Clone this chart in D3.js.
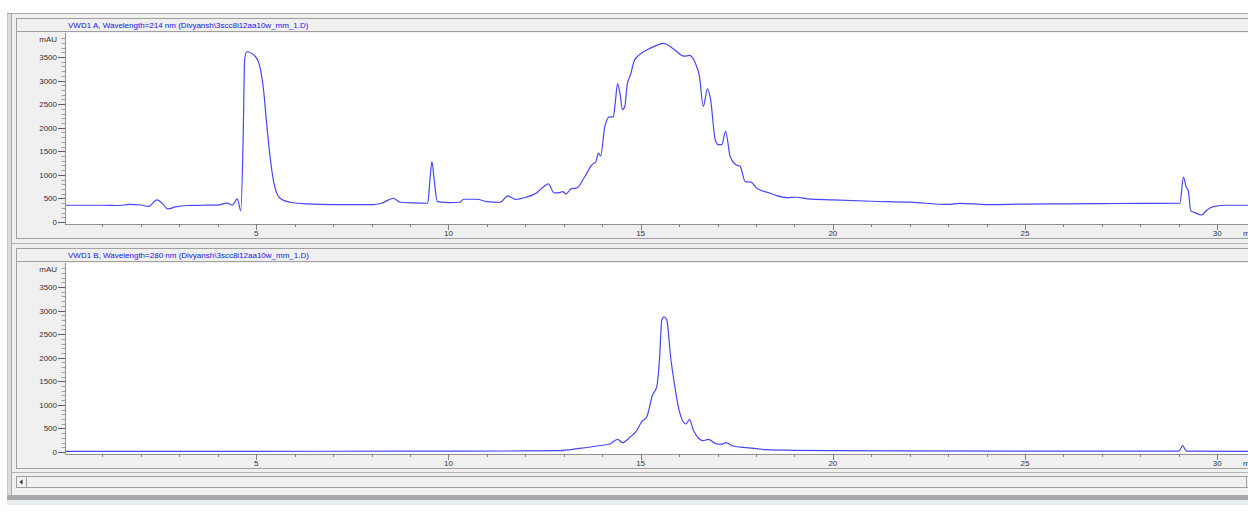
<!DOCTYPE html>
<html>
<head>
<meta charset="utf-8">
<script src="https://cdn.jsdelivr.net/npm/d3@7"></script>
<style>
  body { margin: 0; background: #ffffff; }
  svg { display: block; font-family: "Liberation Sans", Arial, sans-serif; }
</style>
</head>
<body>
<script>
// signal A (214 nm): retention time (min) and absorbance (mAU)
const timeA = [0, 1.0, 1.4, 1.7, 2.0, 2.2, 2.42, 2.55, 2.7, 2.9, 3.2, 3.6, 4.0, 4.23, 4.38, 4.51, 4.6, 4.66, 4.7, 4.75,
  4.97, 5.08, 5.19, 5.27, 5.36, 5.46, 5.62, 5.88, 6.31, 7.0, 8.04, 8.26, 8.57, 8.74, 9.09, 9.46, 9.52, 9.57, 9.63, 9.71,
  10.04, 10.3, 10.39, 10.74, 11.0, 11.34, 11.55, 11.75, 12.0, 12.3, 12.5, 12.6, 12.75, 12.9, 12.97, 13.06, 13.2, 13.33,
  13.55, 13.73, 13.84, 13.9, 13.96, 14.07, 14.19, 14.29, 14.34, 14.4, 14.46, 14.53, 14.59, 14.65, 14.74, 14.83, 14.98,
  15.16, 15.37, 15.59, 15.85, 16.13, 16.27, 16.42, 16.53, 16.63, 16.74, 16.82, 16.94, 17.02, 17.11, 17.21, 17.33, 17.48,
  17.59, 17.72, 17.87, 18.02, 18.37, 18.54, 18.8, 19.06, 19.36, 20.0, 21.0, 22.0, 23.0, 23.3, 24.0, 25.0, 26.0, 27.0,
  28.0, 29.03, 29.12, 29.19, 29.25, 29.31, 29.42, 29.6, 29.71, 29.9, 30.25, 31.0];
const signalA = [355, 355, 350, 372, 360, 330, 468, 400, 277, 320, 350, 355, 360, 400, 360, 489, 240, 1745, 3447, 3611,
  3518, 3341, 2809, 2100, 1390, 823, 504, 419, 383, 368, 368, 398, 504, 419, 404, 398, 894, 1283, 894, 432,
  411, 419, 483, 483, 432, 419, 553, 480, 520, 620, 766, 809, 617, 624, 645, 596, 709, 717,
  964, 1213, 1283, 1462, 1404, 2028, 2228, 2228, 2526, 2937, 2739, 2383, 2454, 2915, 3128, 3411, 3554,
  3646, 3730, 3788, 3675, 3518, 3532, 3377, 3092, 2454, 2824, 2596, 1745, 1639, 1639, 1922, 1390, 1213,
  1177, 858, 845, 717, 611, 560, 517, 525, 489, 468, 440, 420, 372, 395, 370, 380, 385, 390,
  395, 398, 951, 751, 645, 240, 198, 149, 240, 326, 355, 355];

// signal B (280 nm)
const timeB = [0, 4.0, 9.0, 12.0, 12.9, 13.42, 13.86, 14.2, 14.4, 14.53, 14.72, 14.88, 15.03, 15.16, 15.31, 15.42, 15.49,
  15.55, 15.61, 15.68, 15.78, 15.89, 16.0, 16.18, 16.27, 16.37, 16.63, 16.76, 16.98, 17.1, 17.22, 17.41, 17.76, 18.28,
  18.97, 20, 25, 29.0, 29.1, 29.2, 31];
const signalB = [15, 15, 18, 22, 28, 78, 127, 170, 269, 198, 311, 431, 643, 749, 1208, 1385, 1950,
  2798, 2868, 2798, 2020, 1385, 890, 594, 693, 466, 240, 269, 170, 165, 198, 127, 92, 49,
  36, 28, 20, 18, 134, 18, 15];

const panels = [
  { title: "VWD1 A, Wavelength=214 nm (Divyansh\\3scc8i12aa10w_mm_1.D)", time: timeA, signal: signalA, top: 18 },
  { title: "VWD1 B, Wavelength=280 nm (Divyansh\\3scc8i12aa10w_mm_1.D)", time: timeB, signal: signalB, top: 248 }
];

const yTicks = d3.range(0, 4000, 100);
const xTicks = d3.range(1, 31, 1);

const w = 1248, h = 520;
const svg = d3.select("body").append("svg").attr("width", w).attr("height", h);

// window frame
svg.append("rect").attr("x", 7).attr("y", 13).attr("width", w).attr("height", 487).attr("fill", "#f0f0f0");
svg.append("rect").attr("x", 7).attr("y", 13).attr("width", 5).attr("height", 487).attr("fill", "#dcdcdc");
svg.append("line").attr("x1", 7.5).attr("x2", 7.5).attr("y1", 13).attr("y2", 500).attr("stroke", "#c4c4c4");
svg.append("line").attr("x1", 11.5).attr("x2", 11.5).attr("y1", 13).attr("y2", 496).attr("stroke", "#a8a8a8");
svg.append("line").attr("x1", 7).attr("x2", w).attr("y1", 13.5).attr("y2", 13.5).attr("stroke", "#a8a8a8");
svg.append("rect").attr("x", 7).attr("y", 495).attr("width", w).attr("height", 5).attr("fill", "#a9a9a9");
svg.append("rect").attr("x", 7).attr("y", 500).attr("width", w).attr("height", 5).attr("fill", "#e8eef0");

const x = d3.scaleLinear().domain([0, 30.8]).range([64, 1248]);

panels.forEach((p, i) => {
  const t0 = p.top;
  const plotTop = t0 + 15, axisY = t0 + 206;
  const y = d3.scaleLinear().domain([0, 4000]).range([axisY - 2, axisY - 2 - 188.6]);
  const g = svg.append("g");

  // title bar
  g.append("rect").attr("x", 16.5).attr("y", t0 + 0.5).attr("width", w).attr("height", 13)
    .attr("fill", "#f0f0f0").attr("stroke", "#a0a0a0");
  g.append("text").attr("x", 68).attr("y", t0 + 10).attr("font-size", 8).attr("fill", "#1414f0")
    .text(p.title);

  // panel box
  g.append("rect").attr("x", 16.5).attr("y", t0 + 13.5).attr("width", w).attr("height", 207)
    .attr("fill", "#f0f0f0").attr("stroke", "#a0a0a0");
  g.append("rect").attr("x", 65).attr("y", plotTop).attr("width", w - 65).attr("height", axisY - plotTop)
    .attr("fill", "#ffffff");

  // y axis
  g.append("line").attr("x1", 65.5).attr("x2", 65.5).attr("y1", plotTop).attr("y2", axisY)
    .attr("stroke", "#909090");
  g.selectAll(".ytick").data(yTicks).enter().append("line")
    .attr("x1", d => d % 500 === 0 ? 58 : 61.5).attr("x2", 65)
    .attr("y1", d => Math.round(y(d)) + 0.5).attr("y2", d => Math.round(y(d)) + 0.5)
    .attr("stroke", d => d % 500 === 0 ? "#606060" : "#a0a0a0");
  g.selectAll(".ylab").data(yTicks.filter(d => d % 500 === 0)).enter().append("text")
    .attr("x", 57).attr("y", d => y(d) + 3).attr("text-anchor", "end")
    .attr("font-size", 8).attr("fill", "#333").text(d => d);
  g.append("text").attr("x", 57).attr("y", y(3880) + 3).attr("text-anchor", "end")
    .attr("font-size", 8).attr("fill", "#333").text("mAU");

  // x axis
  g.append("line").attr("x1", 65).attr("x2", w).attr("y1", axisY + 0.5).attr("y2", axisY + 0.5)
    .attr("stroke", "#909090");
  g.selectAll(".xtick").data(xTicks).enter().append("line")
    .attr("x1", d => Math.round(x(d)) + 0.5).attr("x2", d => Math.round(x(d)) + 0.5)
    .attr("y1", axisY).attr("y2", d => d % 5 === 0 ? axisY + 6 : axisY + 3)
    .attr("stroke", "#808080");
  g.selectAll(".xlab").data(xTicks.filter(d => d % 5 === 0)).enter().append("text")
    .attr("x", d => x(d)).attr("y", axisY + 12).attr("text-anchor", "middle")
    .attr("font-size", 8).attr("fill", "#333").text(d => d);
  g.append("text").attr("x", 1243).attr("y", axisY + 12).attr("font-size", 8).attr("fill", "#333").text("min");

  // trace
  const clipId = "clip" + i;
  svg.append("clipPath").attr("id", clipId).append("rect")
    .attr("x", 66).attr("y", plotTop).attr("width", w - 66).attr("height", axisY - plotTop);
  const line = d3.line().x(d => x(d[0])).y(d => y(d[1])).curve(d3.curveMonotoneX);
  g.append("path").datum(p.time.map((t, k) => [t, p.signal[k]]))
    .attr("clip-path", "url(#" + clipId + ")")
    .attr("d", line).attr("fill", "none").attr("stroke", "#4646ff").attr("stroke-width", 1.2);
});

// separator between panels
svg.append("line").attr("x1", 12).attr("x2", w).attr("y1", 243.5).attr("y2", 243.5).attr("stroke", "#b4b4b4");
svg.append("line").attr("x1", 12).attr("x2", w).attr("y1", 472.5).attr("y2", 472.5).attr("stroke", "#b4b4b4");

// scrollbar
svg.append("rect").attr("x", 16.5).attr("y", 476.5).attr("width", w).attr("height", 11)
  .attr("fill", "#f0f0f0").attr("stroke", "#a0a0a0");
svg.append("rect").attr("x", 16.5).attr("y", 476.5).attr("width", 10).attr("height", 11)
  .attr("fill", "#f0f0f0").attr("stroke", "#a0a0a0");
svg.append("path").attr("d", "M19.5,482 L22.5,479.5 L22.5,484.5 Z").attr("fill", "#303030");
svg.append("line").attr("x1", 1246.5).attr("x2", 1246.5).attr("y1", 476).attr("y2", 488).attr("stroke", "#a0a0a0");
</script>
</body>
</html>
